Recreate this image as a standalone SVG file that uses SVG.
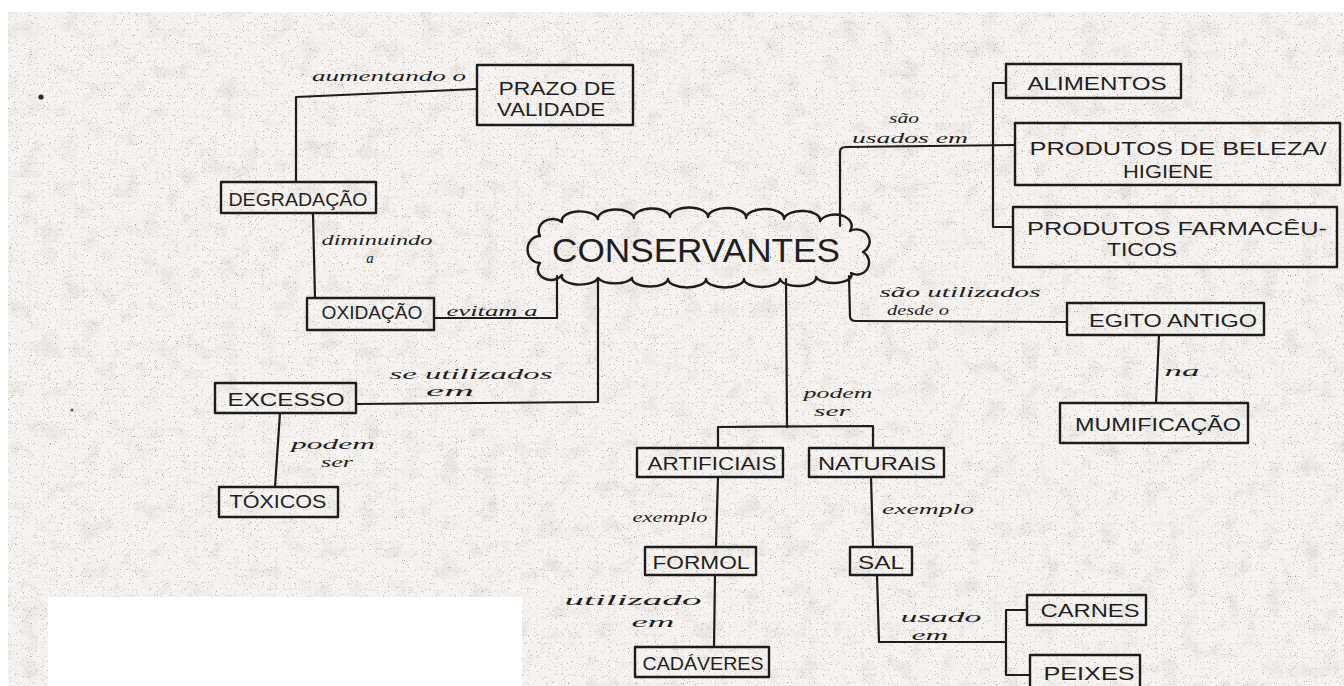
<svg xmlns="http://www.w3.org/2000/svg" width="1344" height="686" viewBox="0 0 1344 686">
  <defs>
    <!-- speckled paper: fine grey grit plus faint larger blotches -->
    <filter id="paper" x="0" y="0" width="100%" height="100%" color-interpolation-filters="sRGB">
      <feFlood flood-color="#f6f3f0" result="base"/>
      <feTurbulence type="fractalNoise" baseFrequency="0.85" numOctaves="2" seed="7" result="fine"/>
      <feColorMatrix in="fine" type="matrix" result="grit"
        values="0 0 0 0 0.60
                0 0 0 0 0.58
                0 0 0 0 0.56
                4.0 0 0 0 -2.5"/>
      <feTurbulence type="fractalNoise" baseFrequency="0.05" numOctaves="3" seed="11" result="coarse"/>
      <feColorMatrix in="coarse" type="matrix" result="blot"
        values="0 0 0 0 0.85
                0 0 0 0 0.83
                0 0 0 0 0.81
                1.2 0 0 0 -0.62"/>
      <feComposite in="blot" in2="base" operator="over" result="b1"/>
      <feComposite in="grit" in2="b1" operator="over"/>
    </filter>
  </defs>
  <style>
    .box { fill: none; stroke: #1d1d1d; stroke-width: 2.4; stroke-linejoin: round; }
    .wire { fill: none; stroke: #1d1d1d; stroke-width: 2.2; stroke-linecap: round; stroke-linejoin: round; }
    .cap { font-family: "Liberation Sans", Arial, sans-serif; font-size: 18px; fill: #1f1f1f; text-anchor: middle; }
    .hand { font-family: "Liberation Serif", "Times New Roman", serif; font-style: italic; font-size: 15px; fill: #1f1f1f; text-anchor: middle; }
    .title { font-family: "Liberation Sans", Arial, sans-serif; font-size: 33px; fill: #1f1f1f; text-anchor: middle; }
  </style>

  <!-- sheet -->
  <rect x="0" y="0" width="1344" height="686" fill="#ffffff"/>
  <rect x="8" y="12" width="1336" height="674" filter="url(#paper)"/>
  <circle cx="41" cy="97" r="2.6" fill="#2a2a2a"/>
  <circle cx="72" cy="410" r="1.6" fill="#555"/>
  <rect x="48" y="597" width="474" height="89" fill="#ffffff"/>

  <!-- connectors -->
  <g id="connectors">
    <path class="wire" d="M477 89 L296 97 L296 182"/>
    <path class="wire" d="M313 213 L315 298"/>
    <path class="wire" d="M434 318 L557 318 L557 276"/>
    <path class="wire" d="M598 278 L598 402 L356 404"/>
    <path class="wire" d="M280 413 L275 487"/>
    <path class="wire" d="M786 279 L787 427"/>
    <path class="wire" d="M718 448 L718 427 L873 426 L873 448"/>
    <path class="wire" d="M718 477 L716 547"/>
    <path class="wire" d="M715 575 L714 647"/>
    <path class="wire" d="M871 477 L873 547"/>
    <path class="wire" d="M877 575 L879 642 L1006 642"/>
    <path class="wire" d="M1027 610 L1006 610 L1006 675 L1030 675"/>
    <path class="wire" d="M840 226 L840 152 Q840 147 846 147 L1015 145"/>
    <path class="wire" d="M1006 83 L993 83 L993 227 L1013 227"/>
    <path class="wire" d="M849 276 L850 316 Q850 321 856 321 L1067 322"/>
    <path class="wire" d="M1159 335 L1156 403"/>
  </g>

  <!-- link labels -->
  <g id="labels">
    <text class="hand" x="389" y="81" textLength="154" lengthAdjust="spacingAndGlyphs">aumentando o</text>
    <text class="hand" x="377" y="245" textLength="111" lengthAdjust="spacingAndGlyphs">diminuindo</text>
    <text class="hand" x="370" y="263">a</text>
    <text class="hand" x="492" y="316" textLength="91" lengthAdjust="spacingAndGlyphs">evitam a</text>
    <text class="hand" x="471" y="379" textLength="163" lengthAdjust="spacingAndGlyphs">se utilizados</text>
    <text class="hand" x="450" y="396" textLength="48" lengthAdjust="spacingAndGlyphs">em</text>
    <text class="hand" x="333" y="449" textLength="84" lengthAdjust="spacingAndGlyphs">podem</text>
    <text class="hand" x="337" y="467" textLength="32" lengthAdjust="spacingAndGlyphs">ser</text>
    <text class="hand" x="838" y="398" textLength="69" lengthAdjust="spacingAndGlyphs">podem</text>
    <text class="hand" x="832" y="416" textLength="36" lengthAdjust="spacingAndGlyphs">ser</text>
    <text class="hand" x="670" y="522" textLength="75" lengthAdjust="spacingAndGlyphs">exemplo</text>
    <text class="hand" x="928" y="514" textLength="92" lengthAdjust="spacingAndGlyphs">exemplo</text>
    <text class="hand" x="633" y="605" textLength="137" lengthAdjust="spacingAndGlyphs">utilizado</text>
    <text class="hand" x="653" y="627" textLength="43" lengthAdjust="spacingAndGlyphs">em</text>
    <text class="hand" x="941" y="622" textLength="81" lengthAdjust="spacingAndGlyphs">usado</text>
    <text class="hand" x="930" y="640" textLength="37" lengthAdjust="spacingAndGlyphs">em</text>
    <text class="hand" x="904" y="123" textLength="30" lengthAdjust="spacingAndGlyphs">são</text>
    <text class="hand" x="910" y="143" textLength="116" lengthAdjust="spacingAndGlyphs">usados em</text>
    <text class="hand" x="960" y="297" textLength="161" lengthAdjust="spacingAndGlyphs">são utilizados</text>
    <text class="hand" x="918" y="315" textLength="62" lengthAdjust="spacingAndGlyphs">desde o</text>
    <text class="hand" x="1182" y="376" textLength="35" lengthAdjust="spacingAndGlyphs">na</text>
  </g>

  <!-- central concept -->
  <g id="conservantes">
    <path class="box" d="M540 236 A14 12 0 0 1 562 222 A18 9 0 0 1 598 219 A18 9 0 0 1 634 218 A18 9 0 0 1 670 217 A18 9 0 0 1 708 217 A18 9 0 0 1 746 218 A18 9 0 0 1 784 219 A18 9 0 0 1 820 221 A16 11 0 0 1 850 231 A12 11 0 0 1 863 252 A12 12 0 0 1 851 273 A18 8 0 0 1 816 277 A18 8 0 0 1 780 279 A18 8 0 0 1 744 279 A18 8 0 0 1 706 279 A18 8 0 0 1 668 279 A18 8 0 0 1 632 278 A18 8 0 0 1 598 278 A18 8 0 0 1 562 275 A12 10 0 0 1 540 263 A12 13 0 0 1 540 236 Z"/>
    <text class="title" x="696" y="262" textLength="288" lengthAdjust="spacingAndGlyphs">CONSERVANTES</text>
  </g>

  <g id="prazo-validade">
    <rect class="box" x="477" y="65" width="156" height="60"/>
    <text class="cap" x="557" y="95" textLength="117" lengthAdjust="spacingAndGlyphs">PRAZO DE</text>
    <text class="cap" x="551" y="116" textLength="108" lengthAdjust="spacingAndGlyphs">VALIDADE</text>
  </g>
  <g id="degradacao">
    <rect class="box" x="221" y="182" width="155" height="31"/>
    <text class="cap" x="298" y="206" font-size="17" textLength="139" lengthAdjust="spacingAndGlyphs">DEGRADAÇÃO</text>
  </g>
  <g id="oxidacao">
    <rect class="box" x="307" y="298" width="127" height="32"/>
    <text class="cap" x="372" y="319" font-size="16" textLength="101" lengthAdjust="spacingAndGlyphs">OXIDAÇÃO</text>
  </g>
  <g id="excesso">
    <rect class="box" x="215" y="383" width="141" height="30"/>
    <text class="cap" x="286" y="406" font-size="19" textLength="117" lengthAdjust="spacingAndGlyphs">EXCESSO</text>
  </g>
  <g id="toxicos">
    <rect class="box" x="219" y="487" width="119" height="30"/>
    <text class="cap" x="278" y="508" font-size="16" textLength="97" lengthAdjust="spacingAndGlyphs">TÓXICOS</text>
  </g>
  <g id="artificiais">
    <rect class="box" x="637" y="448" width="146" height="29"/>
    <text class="cap" x="712" y="470" font-size="17" textLength="129" lengthAdjust="spacingAndGlyphs">ARTIFICIAIS</text>
  </g>
  <g id="naturais">
    <rect class="box" x="809" y="448" width="135" height="29"/>
    <text class="cap" x="877" y="470" font-size="17" textLength="118" lengthAdjust="spacingAndGlyphs">NATURAIS</text>
  </g>
  <g id="formol">
    <rect class="box" x="645" y="547" width="111" height="28"/>
    <text class="cap" x="701" y="569" font-size="17" textLength="97" lengthAdjust="spacingAndGlyphs">FORMOL</text>
  </g>
  <g id="sal">
    <rect class="box" x="850" y="547" width="62" height="28"/>
    <text class="cap" x="881" y="569" font-size="17" textLength="46" lengthAdjust="spacingAndGlyphs">SAL</text>
  </g>
  <g id="cadaveres">
    <rect class="box" x="635" y="647" width="134" height="30"/>
    <text class="cap" x="703" y="670" font-size="16" textLength="121" lengthAdjust="spacingAndGlyphs">CADÁVERES</text>
  </g>
  <g id="carnes">
    <rect class="box" x="1027" y="595" width="119" height="30"/>
    <text class="cap" x="1090" y="617" font-size="17" textLength="99" lengthAdjust="spacingAndGlyphs">CARNES</text>
  </g>
  <g id="peixes">
    <rect class="box" x="1030" y="655" width="110" height="40"/>
    <text class="cap" x="1089" y="680" font-size="17" textLength="91" lengthAdjust="spacingAndGlyphs">PEIXES</text>
  </g>
  <g id="alimentos">
    <rect class="box" x="1006" y="64" width="175" height="34"/>
    <text class="cap" x="1097" y="90" textLength="139" lengthAdjust="spacingAndGlyphs">ALIMENTOS</text>
  </g>
  <g id="beleza-higiene">
    <rect class="box" x="1015" y="123" width="325" height="62"/>
    <text class="cap" x="1178" y="155" textLength="297" lengthAdjust="spacingAndGlyphs">PRODUTOS DE BELEZA/</text>
    <text class="cap" x="1168" y="178" textLength="90" lengthAdjust="spacingAndGlyphs">HIGIENE</text>
  </g>
  <g id="farmaceuticos">
    <rect class="box" x="1013" y="207" width="324" height="60"/>
    <text class="cap" x="1177" y="235" textLength="300" lengthAdjust="spacingAndGlyphs">PRODUTOS FARMACÊU-</text>
    <text class="cap" x="1142" y="256" textLength="70" lengthAdjust="spacingAndGlyphs">TICOS</text>
  </g>
  <g id="egito-antigo">
    <rect class="box" x="1067" y="303" width="197" height="32"/>
    <text class="cap" x="1173" y="327" textLength="168" lengthAdjust="spacingAndGlyphs">EGITO ANTIGO</text>
  </g>
  <g id="mumificacao">
    <rect class="box" x="1060" y="403" width="188" height="40"/>
    <text class="cap" x="1158" y="431" textLength="166" lengthAdjust="spacingAndGlyphs">MUMIFICAÇÃO</text>
  </g>
</svg>
